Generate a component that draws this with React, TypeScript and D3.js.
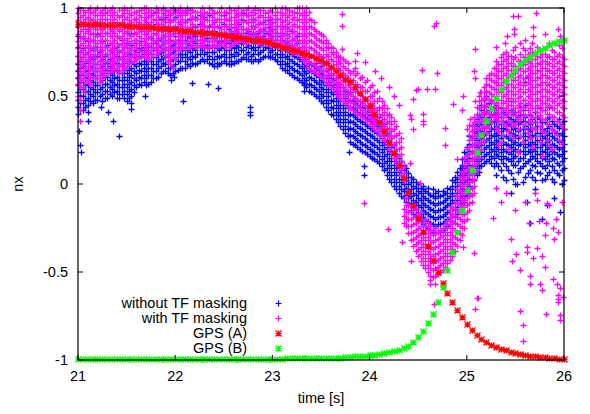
import React from "react";
import * as d3 from "d3";

// ---------- axis / legend text ----------
const X_TICKS = [21, 22, 23, 24, 25, 26];
const Y_TICKS = [-1, -0.5, 0, 0.5, 1];
const Y_TICK_LABELS = ["-1", "-0.5", "0", "0.5", "1"];
const X_LABEL = "time [s]";
const Y_LABEL = "nx";
const LEGEND_LABELS = ["without TF masking", "with TF masking", "GPS (A)", "GPS (B)"];
const COLORS = ["#0000ff", "#ff00ff", "#ff0000", "#00ff00"];

// ---------- GPS series (sampled every 0.05 s from 21 s) ----------
const GPS_START = 21;
const GPS_STEP = 0.05;
const gpsA = [
  0.910, 0.910, 0.909, 0.908, 0.907, 0.906, 0.905, 0.904, 0.903, 0.902,
  0.900, 0.898, 0.896, 0.894, 0.892, 0.890, 0.888, 0.886, 0.883, 0.880,
  0.878, 0.875, 0.872, 0.869, 0.866, 0.863, 0.860, 0.857, 0.854, 0.850,
  0.846, 0.842, 0.838, 0.834, 0.830, 0.826, 0.821, 0.816, 0.810, 0.804,
  0.797, 0.789, 0.780, 0.772, 0.764, 0.756, 0.747, 0.738, 0.728, 0.717,
  0.703, 0.685, 0.665, 0.643, 0.620, 0.598, 0.578, 0.550, 0.517, 0.483,
  0.442, 0.400, 0.352, 0.300, 0.240, 0.176, 0.108, 0.034, -0.045, -0.120,
  -0.195, -0.275, -0.350, -0.430, -0.500, -0.560, -0.620, -0.670, -0.715, -0.755,
  -0.795, -0.828, -0.856, -0.878, -0.897, -0.913, -0.926, -0.937, -0.946, -0.954,
  -0.960, -0.966, -0.971, -0.975, -0.979, -0.982, -0.985, -0.988, -0.990, -0.992,
  -0.994,
];
const gpsB = [
  -0.994, -0.994, -0.994, -0.994, -0.994, -0.994, -0.994, -0.994, -0.994, -0.994,
  -0.994, -0.994, -0.994, -0.994, -0.994, -0.993, -0.993, -0.993, -0.993, -0.993,
  -0.993, -0.993, -0.993, -0.993, -0.993, -0.993, -0.993, -0.993, -0.993, -0.993,
  -0.993, -0.993, -0.993, -0.993, -0.992, -0.992, -0.992, -0.992, -0.992, -0.992,
  -0.992, -0.992, -0.992, -0.991, -0.991, -0.991, -0.991, -0.991, -0.990, -0.990,
  -0.990, -0.989, -0.988, -0.987, -0.986, -0.984, -0.982, -0.980, -0.978, -0.975,
  -0.972, -0.969, -0.965, -0.960, -0.955, -0.950, -0.943, -0.933, -0.918, -0.897,
  -0.870, -0.836, -0.790, -0.737, -0.670, -0.585, -0.490, -0.386, -0.270, -0.150,
  -0.034, 0.080, 0.180, 0.278, 0.358, 0.430, 0.490, 0.540, 0.585, 0.620,
  0.650, 0.680, 0.705, 0.723, 0.743, 0.761, 0.774, 0.790, 0.800, 0.812,
  0.818,
];

// ---------- "without TF masking" (blue): [time, values at that time] ----------
const blueColumns: [number, number[]][] = [
  [21.00, [.40, .44, .48, .52, .56, .60, .64, .68, .73, .78, .84]],
  [21.05, [.42, .46, .50, .54, .58, .62, .67, .72, .77, .83]],
  [21.10, [.45, .49, .53, .57, .61, .65, .70, .75, .81, .88]],
  [21.15, [.46, .50, .54, .58, .62, .66, .71, .76, .82]],
  [21.20, [.48, .52, .56, .60, .64, .68, .73, .78, .85]],
  [21.25, [.47, .51, .55, .59, .63, .67, .71, .76, .81, .88]],
  [21.30, [.49, .53, .57, .61, .65, .69, .74, .79, .86]],
  [21.35, [.50, .54, .58, .62, .66, .70, .75, .80, .87]],
  [21.40, [.49, .53, .57, .61, .65, .69, .73, .78, .84]],
  [21.45, [.51, .55, .59, .63, .67, .71, .76, .82]],
  [21.50, [.47, .51, .55, .59, .63, .67, .71, .75, .80, .86]],
  [21.55, [.50, .54, .58, .62, .66, .70, .74, .79, .85]],
  [21.60, [.55, .59, .63, .67, .71, .75, .80, .86, .94]],
  [21.65, [.56, .60, .64, .68, .72, .76, .81, .87]],
  [21.70, [.56, .60, .64, .68, .72, .76, .80, .85, .92]],
  [21.75, [.58, .62, .66, .70, .74, .78, .83, .89, .96]],
  [21.80, [.60, .64, .68, .72, .76, .80, .85, .91, .98]],
  [21.85, [.63, .67, .71, .75, .79, .83, .88, .94]],
  [21.90, [.64, .68, .72, .76, .80, .84, .89, .95, .99]],
  [21.95, [.62, .66, .70, .74, .78, .82, .87, .93]],
  [22.00, [.64, .68, .72, .76, .80, .84, .89, .95, .99]],
  [22.05, [.66, .70, .74, .78, .82, .86, .91, .97]],
  [22.10, [.66, .70, .74, .78, .82, .87, .92, .98]],
  [22.15, [.67, .71, .75, .79, .83, .88, .94, .99]],
  [22.20, [.68, .72, .76, .80, .84, .89, .95]],
  [22.25, [.70, .74, .78, .82, .86, .91, .96]],
  [22.30, [.70, .74, .78, .82, .86, .90, .95]],
  [22.35, [.69, .73, .77, .81, .85, .90, .96]],
  [22.40, [.67, .71, .75, .79, .83, .87, .92]],
  [22.45, [.68, .72, .76, .80, .84, .89]],
  [22.50, [.70, .74, .78, .82, .86, .91, .96]],
  [22.55, [.68, .72, .76, .80, .84, .88, .93]],
  [22.60, [.69, .73, .77, .81, .85, .89]],
  [22.65, [.70, .74, .78, .82, .86, .91, .96]],
  [22.70, [.72, .76, .80, .84, .88, .93, .97]],
  [22.75, [.71, .75, .79, .83, .87, .92, .96]],
  [22.80, [.70, .74, .78, .82, .86, .90, .94]],
  [22.85, [.70, .74, .78, .82, .86, .91]],
  [22.90, [.72, .76, .80, .84, .88, .92]],
  [22.95, [.73, .77, .81, .85, .89, .93]],
  [23.00, [.72, .76, .80, .84, .88, .92]],
  [23.05, [.70, .74, .78, .82, .86, .90, .94]],
  [23.10, [.66, .70, .74, .78, .82, .86, .90]],
  [23.15, [.65, .69, .73, .77, .81, .85, .89]],
  [23.20, [.62, .66, .70, .74, .78, .82, .87]],
  [23.25, [.60, .64, .68, .72, .76, .80, .84]],
  [23.30, [.58, .62, .66, .70, .74, .78]],
  [23.35, [.55, .59, .63, .67, .71]],
  [23.40, [.52, .56, .60, .64, .68]],
  [23.45, [.50, .54, .58, .62, .66, .69]],
  [23.50, [.47, .51, .55, .59, .63, .67]],
  [23.55, [.44, .48, .52, .56, .60, .64]],
  [23.60, [.40, .44, .48, .52, .56, .60]],
  [23.65, [.37, .41, .45, .49, .53, .57, .60]],
  [23.70, [.33, .37, .41, .45, .49, .53, .57]],
  [23.75, [.29, .33, .37, .41, .45, .49, .53]],
  [23.80, [.24, .28, .32, .36, .40, .44, .48, .52]],
  [23.85, [.22, .26, .30, .34, .38, .42, .46, .49]],
  [23.90, [.20, .24, .28, .32, .36, .40, .44, .47]],
  [23.95, [.18, .22, .26, .30, .34, .38, .41, .44]],
  [24.00, [.16, .20, .24, .28, .32, .36, .39, .42]],
  [24.05, [.14, .18, .22, .26, .30, .34, .37, .40]],
  [24.10, [.12, .16, .20, .24, .28, .32, .35, .38]],
  [24.15, [.08, .12, .16, .20, .24, .28, .31, .34]],
  [24.20, [.03, .07, .11, .15, .19, .23, .28]],
  [24.25, [-.01, .03, .07, .11, .15, .19, .22]],
  [24.30, [-.05, -.01, .03, .07, .11, .15]],
  [24.35, [-.08, -.04, 0, .04, .08, .11]],
  [24.40, [-.12, -.08, -.04, 0, .04, .06]],
  [24.45, [-.17, -.13, -.09, -.05, -.01, .03]],
  [24.50, [-.20, -.16, -.12, -.08, -.04, 0]],
  [24.55, [-.23, -.19, -.15, -.11, -.07, -.03, -.01]],
  [24.60, [-.25, -.21, -.17, -.13, -.09, -.05, -.02]],
  [24.65, [-.27, -.23, -.19, -.15, -.11, -.07, -.03]],
  [24.70, [-.27, -.23, -.19, -.15, -.11, -.07, -.04]],
  [24.75, [-.26, -.22, -.18, -.14, -.10, -.06, -.04]],
  [24.80, [-.24, -.20, -.16, -.12, -.08, -.05, -.02]],
  [24.85, [-.21, -.17, -.13, -.09, -.05, -.01, .02]],
  [24.90, [-.17, -.13, -.09, -.05, -.01, .03, .07]],
  [24.95, [-.12, -.08, -.04, 0, .04, .08, .11, .14]],
  [25.00, [-.07, -.03, .01, .05, .09, .13, .17, .21]],
  [25.05, [-.02, .02, .06, .10, .14, .18, .22, .26, .30]],
  [25.10, [.05, .09, .13, .17, .21, .25, .29, .33, .37]],
  [25.15, [.10, .14, .18, .22, .26, .30, .34, .38, .42, .45]],
  [25.20, [.13, .17, .21, .25, .29, .33, .37, .41, .45, .50]],
  [25.25, [.12, .16, .20, .24, .28, .32, .36, .40, .44, .48]],
  [25.30, [.05, .12, .17, .21, .25, .29, .33, .37, .41, .45]],
  [25.35, [.08, .14, .18, .22, .26, .30, .34, .38, .43]],
  [25.40, [.02, .10, .15, .19, .23, .27, .31, .35, .40]],
  [25.45, [.06, .13, .17, .21, .25, .29, .33, .37, .42, .47]],
  [25.50, [0, .11, .16, .20, .24, .28, .32, .36, .41]],
  [25.55, [.09, .15, .19, .23, .27, .31, .35, .39, .44]],
  [25.60, [.04, .12, .17, .21, .25, .29, .33, .38, .45, .58]],
  [25.65, [.08, .14, .18, .22, .26, .30, .34, .39]],
  [25.70, [.02, .10, .15, .19, .23, .27, .31, .35, .41]],
  [25.75, [.06, .12, .17, .21, .25, .29, .33, .37, .43]],
  [25.80, [.03, .09, .14, .18, .22, .26, .30, .35]],
  [25.85, [.07, .13, .17, .21, .25, .29, .33, .38, .44]],
  [25.90, [.01, .08, .14, .18, .22, .26, .30, .34]],
  [25.95, [.05, .11, .16, .20, .24, .28, .32, .37]],
  [26.00, [.02, .09, .15, .19, .23, .27, .31, .36]],
];
// second, interleaved set of blue frames
const blueColumnsB: [number, number[]][] = [
  [21.025, [.42, .46, .50, .54, .58, .62, .66, .70, .75]],
  [21.075, [.44, .48, .52, .56, .60, .64, .69, .74]],
  [21.125, [.47, .51, .55, .59, .63, .67, .72, .77]],
  [21.175, [.48, .52, .56, .60, .64, .68, .73, .78]],
  [21.225, [.50, .54, .58, .62, .66, .70, .75]],
  [21.275, [.49, .53, .57, .61, .65, .69, .73, .78]],
  [21.325, [.51, .55, .59, .63, .67, .71, .76]],
  [21.375, [.52, .56, .60, .64, .68, .72, .77]],
  [21.425, [.51, .55, .59, .63, .67, .71, .75]],
  [21.475, [.49, .53, .57, .61, .65, .69, .73, .78]],
  [21.525, [.49, .53, .57, .61, .65, .69, .73, .77]],
  [21.575, [.52, .56, .60, .64, .68, .72, .76]],
  [21.625, [.57, .61, .65, .69, .73, .77]],
  [21.675, [.58, .62, .66, .70, .74, .78]],
  [21.725, [.57, .62, .66, .70, .74, .78]],
  [21.775, [.60, .64, .68, .72, .76, .80]],
  [21.825, [.61, .66, .70, .74, .78, .82]],
  [21.875, [.64, .69, .73, .77, .81]],
  [21.925, [.63, .66, .70, .74, .78, .82]],
  [21.975, [.63, .67, .71, .75, .79]],
  [22.025, [.65, .70, .74, .78, .82]],
  [22.075, [.66, .72, .76, .80, .84]],
  [22.125, [.68, .72, .76, .80, .84]],
  [22.175, [.69, .73, .77, .81, .85]],
  [22.225, [.69, .74, .78, .82, .86]],
  [22.275, [.71, .76, .80, .84]],
  [22.325, [.71, .75, .79, .83, .87]],
  [22.375, [.68, .71, .75, .79, .83]],
  [22.425, [.67, .69, .73, .77, .81, .85]],
  [22.475, [.69, .73, .77, .81, .85]],
  [22.525, [.69, .72, .76, .80, .84]],
  [22.575, [.68, .70, .74, .78, .82, .86]],
  [22.625, [.70, .75, .79, .83, .87]],
  [22.675, [.71, .76, .80, .84]],
  [22.725, [.71, .74, .78, .82, .86]],
  [22.775, [.70, .73, .77, .81, .85]],
  [22.825, [.71, .76, .80, .84]],
  [22.875, [.71, .75, .79, .83, .87]],
  [22.925, [.73, .78, .82, .86]],
  [22.975, [.72, .75, .79, .83, .87]],
  [23.025, [.71, .74, .78, .82, .86]],
  [23.075, [.68, .72, .76, .80, .84]],
  [23.125, [.65, .68, .72, .76, .80]],
  [23.175, [.63, .67, .71, .75, .79]],
  [23.225, [.61, .65, .69, .73, .77]],
  [23.275, [.59, .63, .67, .71, .75]],
  [23.325, [.56, .60, .64, .68, .72]],
  [23.375, [.53, .57, .61, .65, .69]],
  [23.425, [.51, .55, .59, .63, .67]],
  [23.475, [.49, .53, .57, .61, .65]],
  [23.525, [.46, .50, .54, .58, .62]],
  [23.575, [.42, .46, .50, .54, .58, .62]],
  [23.625, [.39, .43, .47, .51, .55, .59]],
  [23.675, [.35, .39, .43, .47, .51, .55]],
  [23.725, [.31, .35, .39, .43, .47, .51, .55]],
  [23.775, [.27, .31, .35, .39, .43, .47, .51]],
  [23.825, [.23, .27, .31, .35, .39, .43, .47]],
  [23.875, [.21, .25, .29, .33, .37, .41, .45]],
  [23.925, [.19, .23, .27, .31, .35, .39, .43]],
  [23.975, [.17, .21, .25, .29, .33, .37, .41]],
  [24.025, [.15, .19, .23, .27, .31, .35, .38]],
  [24.075, [.13, .17, .21, .25, .29, .33, .36]],
  [24.125, [.10, .14, .18, .22, .26, .30, .33]],
  [24.175, [.05, .09, .13, .17, .21, .25, .29]],
  [24.225, [.01, .05, .09, .13, .17, .21]],
  [24.275, [-.03, .01, .05, .09, .13, .17]],
  [24.325, [-.07, -.03, .01, .05, .09, .13]],
  [24.375, [-.10, -.06, -.02, .02, .06, .09]],
  [24.425, [-.15, -.11, -.07, -.03, .01, .04]],
  [24.475, [-.18, -.14, -.10, -.06, -.02, .01]],
  [24.525, [-.21, -.17, -.13, -.09, -.05, -.02]],
  [24.575, [-.24, -.20, -.16, -.12, -.08, -.04]],
  [24.625, [-.26, -.22, -.18, -.14, -.10, -.06]],
  [24.675, [-.28, -.24, -.20, -.16, -.12, -.08, -.05]],
  [24.725, [-.27, -.23, -.19, -.15, -.11, -.07]],
  [24.775, [-.25, -.21, -.17, -.13, -.09, -.05]],
  [24.825, [-.23, -.19, -.15, -.11, -.07, -.03]],
  [24.875, [-.19, -.15, -.11, -.07, -.03, .01, .04]],
  [24.925, [-.15, -.11, -.07, -.03, .01, .05, .09]],
  [24.975, [-.10, -.06, -.02, .02, .06, .10, .14, .18]],
  [25.025, [-.05, -.01, .03, .07, .11, .15, .19, .23, .27]],
  [25.075, [.02, .06, .10, .14, .18, .22, .26, .30, .34]],
  [25.125, [.07, .11, .15, .19, .23, .27, .31, .35, .39]],
  [25.175, [.12, .16, .20, .24, .28, .32, .36, .40, .44, .48]],
  [25.225, [.14, .18, .22, .26, .30, .34, .38, .42, .46]],
  [25.275, [.10, .15, .19, .23, .27, .31, .35, .39, .43]],
  [25.325, [.10, .16, .20, .24, .28, .32, .36, .40]],
  [25.375, [.04, .12, .16, .20, .24, .28, .32, .36, .41]],
  [25.425, [.08, .14, .18, .22, .26, .30, .34, .38]],
  [25.475, [.03, .11, .15, .19, .23, .27, .31, .35, .40]],
  [25.525, [.07, .13, .18, .22, .26, .30, .34, .38]],
  [25.575, [.01, .10, .15, .19, .23, .27, .31, .36, .42]],
  [25.625, [.06, .13, .19, .23, .27, .31, .35]],
  [25.675, [.04, .11, .16, .20, .24, .28, .32, .37]],
  [25.725, [.07, .13, .17, .21, .25, .29, .33, .38]],
  [25.775, [.02, .10, .15, .19, .23, .27, .31, .35]],
  [25.825, [.05, .11, .16, .20, .24, .28, .32, .37]],
  [25.875, [.03, .10, .15, .19, .23, .27, .31, .36]],
  [25.925, [.06, .12, .17, .21, .25, .29, .33]],
  [25.975, [.00, .08, .13, .17, .21, .25, .29, .34]],
];
const blueOutliers: [number, number][] = [
  [21.01, .30], [21.02, .22], [21.03, .18], [21.10, .36], [21.10, .41], [21.24, .436],
  [21.31, .41], [21.36, .356], [21.42, .27], [21.42, .49], [21.55, .426], [21.55, .46],
  [21.69, .50], [21.77, .60], [21.96, .59], [21.99, .61], [22.08, .47], [22.17, .575],
  [22.34, .57], [22.44, .545], [22.77, .44], [22.77, .41], [22.77, .39], [23.32, .574],
  [23.32, .527], [23.79, .18], [23.94, .10], [23.94, .05], [25.52, 0.0], [25.62, -.10],
  [25.65, -.22], [25.77, -.20], [25.82, -.12], [25.96, -.16], [25.45, -.05], [25.90, -.08],
  [25.70, -.03], [25.63, .61],
];

// ---------- "with TF masking" (magenta) ----------
const magentaColumns: [number, number[]][] = [
  [21.025, [.36, .42, .48, .55, .59, .63, .67, .71, .75, .79, .83, .87, .91, .95, .99]],
  [21.075, [.52, .58, .62, .66, .70, .74, .78, .82, .86, .90, .94, .98]],
  [21.125, [.57, .61, .65, .69, .73, .77, .81, .85, .89, .93, .97, 1.0]],
  [21.175, [.60, .64, .68, .72, .76, .80, .84, .88, .92, .96, .99]],
  [21.225, [.58, .62, .66, .70, .74, .78, .82, .86, .90, .94, .98]],
  [21.275, [.62, .66, .70, .74, .78, .82, .86, .90, .94, .97, 1.0]],
  [21.325, [.64, .68, .72, .76, .80, .84, .88, .92, .96, .99]],
  [21.375, [.66, .70, .74, .78, .82, .86, .90, .94, .98]],
  [21.425, [.63, .67, .71, .75, .79, .83, .87, .91, .95, .99]],
  [21.475, [.66, .70, .74, .78, .82, .86, .90, .94, .97, 1.0]],
  [21.525, [.69, .73, .77, .81, .85, .89, .93, .97]],
  [21.575, [.70, .74, .78, .82, .86, .90, .94, .98]],
  [21.625, [.72, .76, .80, .84, .88, .92, .96, .99]],
  [21.675, [.73, .77, .81, .85, .89, .93, .97, 1.0]],
  [21.725, [.71, .75, .79, .83, .87, .91, .95, .98]],
  [21.775, [.74, .78, .82, .86, .90, .94, .97]],
  [21.825, [.75, .79, .83, .87, .91, .95, .99]],
  [21.875, [.77, .81, .85, .89, .93, .97, 1.0]],
  [21.925, [.70, .74, .78, .82, .86, .90, .94, .98]],
  [21.975, [.66, .72, .77, .81, .85, .89, .93, .97, 1.0]],
  [22.025, [.76, .80, .84, .88, .92, .96, .99]],
  [22.075, [.78, .82, .86, .90, .94, .98]],
  [22.125, [.77, .81, .85, .89, .93, .97, 1.0]],
  [22.175, [.79, .83, .87, .91, .95, .99]],
  [22.225, [.78, .82, .86, .90, .94, .98]],
  [22.275, [.80, .84, .88, .92, .96, 1.0]],
  [22.325, [.77, .81, .85, .89, .93, .97]],
  [22.375, [.79, .83, .87, .91, .95, .99]],
  [22.425, [.78, .82, .86, .90, .94, .98]],
  [22.475, [.80, .84, .88, .92, .96, 1.0]],
  [22.525, [.78, .82, .86, .90, .94, .98]],
  [22.575, [.79, .83, .87, .91, .95, .99]],
  [22.625, [.81, .85, .89, .93, .97]],
  [22.675, [.82, .86, .90, .94, .98]],
  [22.725, [.80, .84, .88, .92, .96, .99]],
  [22.775, [.82, .86, .90, .94, .98]],
  [22.825, [.81, .85, .89, .93, .97, 1.0]],
  [22.875, [.80, .84, .88, .92, .96, .99]],
  [22.925, [.81, .85, .89, .93, .97]],
  [22.975, [.79, .83, .87, .91, .95, .99]],
  [23.025, [.80, .84, .88, .92, .96, 1.0]],
  [23.075, [.78, .82, .86, .90, .94, .98]],
  [23.125, [.77, .81, .85, .89, .93, .97, 1.0]],
  [23.175, [.76, .80, .84, .88, .92, .96, .99]],
  [23.225, [.75, .79, .83, .87, .91, .95, .98]],
  [23.275, [.74, .78, .82, .86, .90, .94, .97, 1.0]],
  [23.325, [.70, .74, .78, .82, .86, .90, .94, .98]],
  [23.375, [.66, .70, .74, .78, .82, .86, .90, .94, .98]],
  [23.425, [.64, .68, .72, .76, .80, .84, .88, .92]],
  [23.475, [.62, .66, .70, .74, .78, .82, .86]],
  [23.525, [.60, .64, .68, .72, .76, .80, .84]],
  [23.575, [.57, .61, .65, .69, .73, .77, .80]],
  [23.625, [.54, .58, .62, .66, .70, .74, .77]],
  [23.675, [.50, .54, .58, .62, .66, .70, .73]],
  [23.725, [.47, .51, .55, .59, .63, .67, .71]],
  [23.775, [.44, .48, .52, .56, .60, .65, .69]],
  [23.825, [.42, .46, .50, .54, .59, .64]],
  [23.875, [.40, .44, .48, .52, .57, .63]],
  [23.925, [.38, .42, .46, .50, .55, .61]],
  [23.975, [.36, .40, .44, .48, .53, .59]],
  [24.025, [.33, .37, .41, .45, .50, .56]],
  [24.075, [.30, .34, .38, .42, .47, .53]],
  [24.125, [.27, .31, .35, .39, .43, .47]],
  [24.175, [.23, .27, .31, .35, .39, .43]],
  [24.225, [.18, .22, .26, .30, .34, .38]],
  [24.275, [.12, .16, .20, .24, .28, .33]],
  [24.325, [.05, .09, .13, .17, .21, .26]],
  [24.375, [-.24, -.20, -.16, -.12, -.08]],
  [24.425, [-.32, -.28, -.24, -.20, -.16, -.12]],
  [24.475, [-.38, -.34, -.30, -.26, -.22, -.18, -.14]],
  [24.525, [-.44, -.40, -.36, -.32, -.28, -.24, -.20, -.16]],
  [24.575, [-.48, -.44, -.40, -.36, -.32, -.28, -.24, -.20]],
  [24.625, [-.52, -.48, -.44, -.40, -.36, -.32, -.28, -.24]],
  [24.675, [-.52, -.48, -.44, -.40, -.36, -.32, -.28, -.25]],
  [24.725, [-.50, -.46, -.42, -.38, -.34, -.30, -.26]],
  [24.775, [-.47, -.43, -.39, -.35, -.31, -.27, -.23]],
  [24.825, [-.43, -.39, -.35, -.31, -.27, -.23, -.19, -.15]],
  [24.875, [-.38, -.34, -.30, -.26, -.22, -.18, -.14, -.10, -.06]],
  [24.925, [-.32, -.28, -.24, -.20, -.16, -.12, -.08, -.04, 0, .04]],
  [24.975, [-.25, -.21, -.17, -.13, -.09, -.05, -.01, .03, .07, .11, .15]],
  [25.025, [-.15, -.11, -.07, -.03, .01, .05, .09, .13, .17, .21, .25, .28]],
  [25.075, [-.05, -.01, .03, .07, .11, .15, .19, .23, .27, .31, .35, .38]],
  [25.125, [.15, .19, .23, .27, .31, .35, .39, .43, .47, .50]],
  [25.175, [.25, .29, .33, .37, .41, .45, .49, .52, .55]],
  [25.225, [.32, .36, .40, .44, .48, .52, .56, .60, .62]],
  [25.275, [.38, .42, .46, .50, .54, .58, .62, .66]],
  [25.325, [.22, .30, .36, .40, .44, .48, .52, .56, .60, .64, .68]],
  [25.375, [.28, .34, .38, .42, .46, .50, .54, .58, .62, .66, .70, .74]],
  [25.425, [.20, .30, .36, .41, .45, .49, .53, .57, .61, .65, .69, .73]],
  [25.475, [.26, .33, .39, .43, .47, .51, .55, .59, .63, .67, .71, .76]],
  [25.525, [.18, .31, .37, .41, .45, .49, .53, .57, .61, .65, .70]],
  [25.575, [.24, .34, .40, .44, .48, .52, .56, .60, .64, .68, .72, .77]],
  [25.625, [.29, .36, .42, .46, .50, .54, .58, .62, .66, .70, .74]],
  [25.675, [.21, .32, .38, .43, .47, .51, .55, .59, .63, .67, .71, .75]],
  [25.725, [.27, .35, .41, .45, .49, .53, .57, .61, .65, .69, .73, .78]],
  [25.775, [.16, .30, .37, .42, .46, .50, .54, .58, .62, .66, .70, .74]],
  [25.825, [.25, .34, .40, .44, .48, .52, .56, .60, .64, .68, .72]],
  [25.875, [.20, .31, .38, .43, .47, .51, .55, .59, .63, .67, .71, .76]],
  [25.925, [.28, .36, .41, .45, .49, .53, .57, .61, .65, .69, .73]],
  [25.975, [.23, .33, .39, .44, .48, .52, .56, .60, .64, .68, .72, .77]],
];
// second, interleaved set of magenta frames
const magentaColumnsB: [number, number[]][] = [
  [21.00, [.50, .57, .61, .65, .69, .73, .77, .81, .85, .89, .93, .97, 1.0]],
  [21.05, [.55, .60, .64, .68, .72, .76, .80, .84, .88, .92, .96, .99]],
  [21.10, [.59, .63, .67, .71, .75, .79, .83, .87, .91, .95, .99]],
  [21.15, [.61, .66, .70, .74, .78, .82, .86, .90, .94, .98]],
  [21.20, [.60, .64, .68, .72, .76, .80, .84, .88, .92, .96, 1.0]],
  [21.25, [.60, .64, .68, .72, .76, .80, .84, .88, .92, .96, .99]],
  [21.30, [.63, .66, .70, .74, .78, .82, .86, .90, .94, .98]],
  [21.35, [.65, .68, .72, .76, .80, .84, .88, .92, .96, 1.0]],
  [21.40, [.64, .68, .72, .76, .80, .84, .88, .92, .96]],
  [21.45, [.65, .68, .72, .76, .80, .84, .88, .92, .96, .99]],
  [21.50, [.67, .71, .75, .79, .83, .87, .91, .95, .99]],
  [21.55, [.69, .72, .76, .80, .84, .88, .92, .96, 1.0]],
  [21.60, [.71, .74, .78, .82, .86, .90, .94, .98]],
  [21.65, [.72, .75, .79, .83, .87, .91, .95, .99]],
  [21.70, [.72, .75, .79, .83, .87, .91, .95, 1.0]],
  [21.75, [.72, .76, .80, .84, .88, .92, .96, .99]],
  [21.80, [.74, .77, .81, .85, .89, .93, .97, 1.0]],
  [21.85, [.76, .79, .83, .87, .91, .95, .99]],
  [21.90, [.73, .76, .80, .84, .88, .92, .96, .99]],
  [21.95, [.68, .72, .76, .80, .84, .88, .92, .96, .99]],
  [22.00, [.71, .74, .78, .82, .86, .90, .94, .98]],
  [22.05, [.77, .80, .84, .88, .92, .96, 1.0]],
  [22.10, [.77, .80, .84, .88, .92, .96, .99]],
  [22.15, [.78, .81, .85, .89, .93, .97]],
  [22.20, [.78, .82, .86, .90, .94, .98]],
  [22.25, [.79, .82, .86, .90, .94, .98]],
  [22.30, [.78, .82, .86, .90, .94, .98]],
  [22.35, [.78, .81, .85, .89, .93, .97, 1.0]],
  [22.40, [.78, .81, .85, .89, .93, .97]],
  [22.45, [.79, .82, .86, .90, .94, .98]],
  [22.50, [.79, .82, .86, .90, .94, .98]],
  [22.55, [.78, .81, .85, .89, .93, .97, 1.0]],
  [22.60, [.80, .83, .87, .91, .95, .99]],
  [22.65, [.81, .84, .88, .92, .96, 1.0]],
  [22.70, [.81, .84, .88, .92, .96, .99]],
  [22.75, [.81, .84, .88, .92, .96, 1.0]],
  [22.80, [.81, .84, .88, .92, .96, .99]],
  [22.85, [.80, .83, .87, .91, .95, .99]],
  [22.90, [.80, .83, .87, .91, .95, .99]],
  [22.95, [.80, .83, .87, .91, .95, .98]],
  [23.00, [.79, .82, .86, .90, .94, .98]],
  [23.05, [.79, .82, .86, .90, .94, .98]],
  [23.10, [.77, .80, .84, .88, .92, .96, 1.0]],
  [23.15, [.76, .79, .83, .87, .91, .95, .99]],
  [23.20, [.75, .78, .82, .86, .90, .94, .98]],
  [23.25, [.74, .77, .81, .85, .89, .93, .97, 1.0]],
  [23.30, [.72, .76, .80, .84, .88, .92, .96, 1.0]],
  [23.35, [.68, .72, .76, .80, .84, .88, .92, .96, 1.0]],
  [23.40, [.65, .69, .73, .77, .81, .85, .89, .93]],
  [23.45, [.63, .67, .71, .75, .79, .83, .87]],
  [23.50, [.61, .65, .69, .73, .77, .81, .85]],
  [23.55, [.58, .62, .66, .70, .74, .78, .82]],
  [23.60, [.55, .59, .63, .67, .71, .75, .78]],
  [23.65, [.52, .56, .60, .64, .68, .72, .75]],
  [23.70, [.49, .53, .57, .61, .65, .69, .72]],
  [23.75, [.46, .50, .54, .58, .62, .66, .70]],
  [23.80, [.43, .47, .51, .55, .59, .63]],
  [23.85, [.41, .45, .49, .53, .57, .62, .66]],
  [23.90, [.39, .43, .47, .51, .55, .60]],
  [23.95, [.37, .41, .45, .49, .53, .58]],
  [24.00, [.34, .38, .42, .46, .50, .55]],
  [24.05, [.31, .35, .39, .43, .47, .52]],
  [24.10, [.28, .32, .36, .40, .44, .49]],
  [24.15, [.25, .29, .33, .37, .41, .45]],
  [24.20, [.20, .24, .28, .32, .36, .40]],
  [24.25, [.15, .19, .23, .27, .31, .36]],
  [24.30, [.08, .12, .16, .20, .24, .29]],
  [24.35, [-.22, -.18, -.14, .02, .06, .10]],
  [24.40, [-.28, -.24, -.20, -.16, -.12]],
  [24.45, [-.35, -.31, -.27, -.23, -.19, -.15]],
  [24.50, [-.41, -.37, -.33, -.29, -.25, -.21, -.17]],
  [24.55, [-.46, -.42, -.38, -.34, -.30, -.26, -.22]],
  [24.60, [-.50, -.46, -.42, -.38, -.34, -.30, -.26, -.22]],
  [24.65, [-.53, -.49, -.45, -.41, -.37, -.33, -.29, -.26]],
  [24.70, [-.51, -.47, -.43, -.39, -.35, -.31, -.27]],
  [24.75, [-.49, -.45, -.41, -.37, -.33, -.29, -.25]],
  [24.80, [-.45, -.41, -.37, -.33, -.29, -.25, -.21]],
  [24.85, [-.41, -.37, -.33, -.29, -.25, -.21, -.17, -.13]],
  [24.90, [-.35, -.31, -.27, -.23, -.19, -.15, -.11, -.07, -.03]],
  [24.95, [-.29, -.25, -.21, -.17, -.13, -.09, -.05, -.01, .03, .07]],
  [25.00, [-.20, -.16, -.12, -.08, -.04, 0, .04, .08, .12, .16, .20]],
  [25.05, [-.10, -.06, -.02, .02, .06, .10, .14, .18, .22, .26, .30, .33]],
  [25.10, [.08, .12, .16, .20, .24, .28, .32, .36, .40, .44]],
  [25.15, [.20, .24, .28, .32, .36, .40, .44, .48, .52]],
  [25.20, [.29, .33, .37, .41, .45, .49, .53, .57, .60]],
  [25.25, [.35, .39, .43, .47, .51, .55, .59, .63]],
  [25.30, [.32, .38, .42, .46, .50, .54, .58, .62, .66, .70]],
  [25.35, [.24, .36, .40, .44, .48, .52, .56, .60, .64, .68, .72]],
  [25.40, [.33, .39, .43, .47, .51, .55, .59, .63, .67, .71, .75]],
  [25.45, [.28, .35, .41, .45, .49, .53, .57, .61, .65, .69, .73]],
  [25.50, [.34, .39, .43, .47, .51, .55, .59, .63, .67, .72, .78]],
  [25.55, [.27, .37, .42, .46, .50, .54, .58, .62, .66, .70, .74]],
  [25.60, [.32, .39, .44, .48, .52, .56, .60, .64, .68, .72, .76]],
  [25.65, [.26, .35, .40, .45, .49, .53, .57, .61, .65, .69, .73, .77]],
  [25.70, [.31, .38, .43, .47, .51, .55, .59, .63, .67, .71, .75]],
  [25.75, [.24, .33, .39, .44, .48, .52, .56, .60, .64, .68, .72, .76]],
  [25.80, [.29, .37, .42, .46, .50, .54, .58, .62, .66, .70, .74]],
  [25.85, [.22, .34, .40, .45, .49, .53, .57, .61, .65, .69, .73]],
  [25.90, [.30, .38, .43, .47, .51, .55, .59, .63, .67, .71, .75]],
  [25.95, [.25, .35, .41, .46, .50, .54, .58, .62, .66, .70, .74, .79]],
  [26.00, [.31, .38, .43, .47, .51, .55, .59, .63, .67, .71]],
];
const magentaOutliers: [number, number][] = [
  [23.72, .966], [23.72, .90], [23.72, .767], [23.87, .746], [23.85, .70], [23.95, .695],
  [24.06, .64], [24.12, .60], [24.20, .55], [24.25, .50], [24.30, .45],
  [24.54, .65], [24.48, .535], [24.59, .54], [24.45, .485], [24.42, .39], [24.55, .40],
  [24.55, .34], [24.45, .31], [24.66, .90], [24.68, .915], [25.08, .765], [24.69, .63],
  [25.07, .64], [25.08, .60], [24.50, .54], [24.67, .54], [24.86, .455], [24.96, .50],
  [25.14, .52], [24.95, .42], [25.08, .47], [25.03, .37], [24.55, .36], [24.43, .37],
  [25.02, .335], [25.00, .315], [24.78, .32], [24.78, .22], [24.90, .14], [24.42, .12],
  [24.52, .007],
  [25.48, .955], [25.53, .955], [25.71, .97], [25.49, .88], [25.49, .855], [25.41, .84],
  [25.39, .80], [25.68, .89], [25.68, .84], [25.67, .80], [25.94, .88], [25.96, .84],
  [25.97, .81], [25.60, .82], [25.80, .85], [25.85, .80], [25.30, .78], [25.55, .80],
  [23.94, -.11], [24.19, -.256], [24.33, -.33], [24.43, -.44], [24.62, -.545], [24.62, -.57],
  [24.66, -.68], [24.67, -.57], [25.27, -.195], [25.07, -.39], [24.96, -.36], [25.10, -.65],
  [25.12, -.65], [25.08, -.71], [25.64, -.22], [25.74, -.21], [25.81, -.22], [25.89, -.25],
  [25.94, -.27], [25.45, -.31], [25.80, -.29], [25.90, -.31], [25.51, -.40], [25.62, -.385],
  [25.72, -.365], [25.77, -.41], [25.68, -.42], [25.46, -.44], [25.55, -.49], [25.65, -.52],
  [25.80, -.47], [25.89, -.54], [25.75, -.57], [25.77, -.60], [25.94, -.63], [25.94, -.67],
  [25.96, -.59], [25.55, -.72], [25.58, -.80], [25.58, -.89], [25.81, -.74], [25.94, -.655],
  [25.96, -.745], [25.96, -.77], [25.99, -.64], [25.93, -.57], [25.65, -.57], [25.62, -.36],
  [25.35, -.10], [25.40, -.05], [25.50, -.15], [25.60, -.10], [25.70, -.05], [25.85, -.12],
  [25.98, -.10], [25.30, -.02], [25.82, -.11], [25.72, -.09], [25.92, -.20],
];

// ---------- layout ----------
const W = 590;
const H = 414;
const M = { left: 78, right: 564, top: 8, bottom: 360 };
const FONT = "'Liberation Sans', Arial, Helvetica, sans-serif";
const FS = 14.5;

const x = d3.scaleLinear().domain([21, 26]).range([M.left, M.right]);
const y = d3.scaleLinear().domain([-1, 1]).range([M.bottom, M.top]);

// snap marker centres to pixel centres so 1px strokes stay crisp
const sx = (t: number) => Math.round(x(t)) + 0.5;
const sy = (v: number) => Math.round(y(v)) + 0.5;

function plusPath(pts: [number, number][], r: number) {
  const p = d3.path();
  for (const [t, v] of pts) {
    const px = sx(t), py = sy(v);
    p.moveTo(px - r, py); p.lineTo(px + r, py);
    p.moveTo(px, py - r); p.lineTo(px, py + r);
  }
  return p.toString();
}
function starPath(pts: [number, number][], r: number) {
  const p = d3.path();
  for (const [t, v] of pts) {
    const px = sx(t), py = sy(v);
    p.moveTo(px - r, py); p.lineTo(px + r, py);
    p.moveTo(px, py - r); p.lineTo(px, py + r);
    p.moveTo(px - r, py - r); p.lineTo(px + r, py + r);
    p.moveTo(px - r, py + r); p.lineTo(px + r, py - r);
  }
  return p.toString();
}

const expand = (cols: [number, number[]][]) =>
  cols.flatMap(([t, ys]) => ys.map((v) => [t, v] as [number, number]));

export default function App() {
  const bluePts = [...expand(blueColumns), ...expand(blueColumnsB), ...blueOutliers];
  const magPts = [...expand(magentaColumns), ...expand(magentaColumnsB), ...magentaOutliers];
  const aPts = gpsA.map((v, i) => [GPS_START + i * GPS_STEP, v] as [number, number]);
  const bPts = gpsB.map((v, i) => [GPS_START + i * GPS_STEP, v] as [number, number]);

  const R = 3;
  const legendY = [303, 318, 333, 348];
  const legendTextX = 247;
  const legendMarkX = 278.5;
  const tick = 5;

  return (
    <svg width={W} height={H} style={{ position: "absolute", left: 0, top: 0, background: "#fff" }}
      fontFamily={FONT} fontSize={FS}>
      <rect x={0} y={0} width={W} height={H} fill="#fff" />
      {/* data */}
      <path d={plusPath(bluePts, R)} stroke={COLORS[0]} strokeWidth={1.3} fill="none" />
      <path d={plusPath(magPts, R)} stroke={COLORS[1]} strokeWidth={1.3} fill="none" />
      <path d={starPath(aPts, R)} stroke={COLORS[2]} strokeWidth={1.3} fill="none" />
      <path d={starPath(bPts, R)} stroke={COLORS[3]} strokeWidth={1.3} fill="none" />

      {/* ticks */}
      {X_TICKS.map((t) => (
        <g key={"xt" + t}>
          <line x1={x(t)} x2={x(t)} y1={M.bottom} y2={M.bottom - tick} stroke="#000" />
          <line x1={x(t)} x2={x(t)} y1={M.top} y2={M.top + tick} stroke="#000" />
          <text x={x(t)} y={M.bottom + 21} textAnchor="middle" fill="#000">{t}</text>
        </g>
      ))}
      {Y_TICKS.map((v, i) => (
        <g key={"yt" + v}>
          <line x1={M.left} x2={M.left + tick} y1={y(v)} y2={y(v)} stroke="#000" />
          <line x1={M.right} x2={M.right - tick} y1={y(v)} y2={y(v)} stroke="#000" />
          <text x={M.left - 10} y={y(v) + 5} textAnchor="end" fill="#000">{Y_TICK_LABELS[i]}</text>
        </g>
      ))}
      {/* border */}
      <rect x={M.left} y={M.top} width={M.right - M.left} height={M.bottom - M.top}
        fill="none" stroke="#000" strokeWidth={1.2} />

      {/* axis labels */}
      <text x={(M.left + M.right) / 2} y={403} textAnchor="middle" fill="#000">{X_LABEL}</text>
      <text transform={`translate(23,${(M.top + M.bottom) / 2}) rotate(-90)`} textAnchor="middle" fill="#000">{Y_LABEL}</text>

      {/* legend */}
      {LEGEND_LABELS.map((lab, i) => {
        const ly = legendY[i] + 0.5;
        return (
          <g key={lab}>
            <text x={legendTextX} y={legendY[i] + 5} textAnchor="end" fill="#000">{lab}</text>
            <path
              d={i < 2
                ? `M${legendMarkX - R},${ly}h${2 * R}M${legendMarkX},${ly - R}v${2 * R}`
                : `M${legendMarkX - R},${ly}h${2 * R}M${legendMarkX},${ly - R}v${2 * R}M${legendMarkX - R},${ly - R}l${2 * R},${2 * R}M${legendMarkX - R},${ly + R}l${2 * R},${-2 * R}`}
              stroke={COLORS[i]} strokeWidth={1.2} fill="none" />
          </g>
        );
      })}
    </svg>
  );
}
